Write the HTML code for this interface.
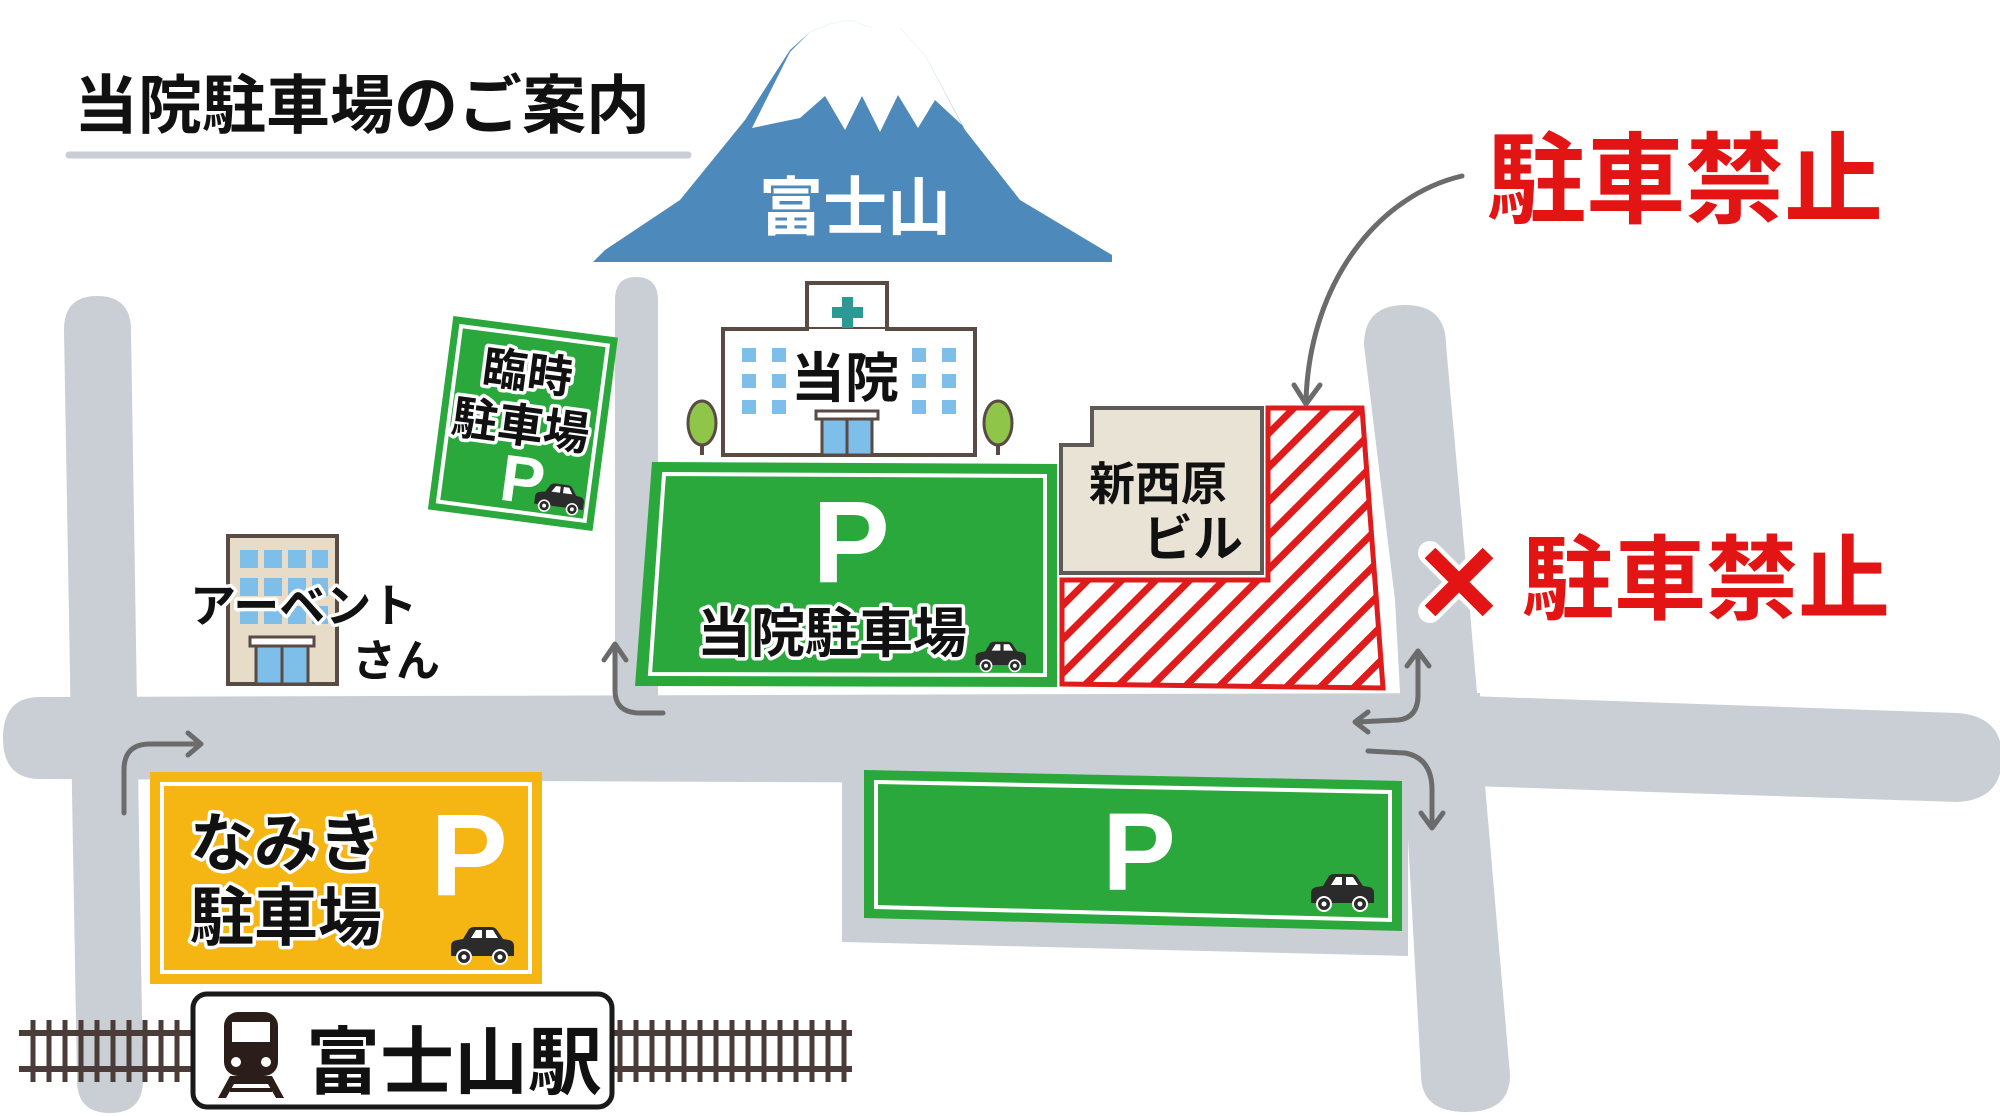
<!DOCTYPE html>
<html><head><meta charset="utf-8"><style>
html,body{margin:0;padding:0;background:#fff;}
svg{display:block;}
text{font-family:"Liberation Sans","Noto Sans CJK JP",sans-serif;font-weight:bold;}
.ol{stroke:#fff;stroke-width:7;paint-order:stroke;stroke-linejoin:round;}
</style></head><body>
<svg width="2000" height="1116" viewBox="0 0 2000 1116" xmlns="http://www.w3.org/2000/svg">
<defs>
<pattern id="hatch" width="24" height="24" patternUnits="userSpaceOnUse" patternTransform="rotate(45)">
<rect width="24" height="24" fill="#fff"/><rect x="0" y="0" width="7" height="24" fill="#e01b1b"/>
</pattern>
<g id="car">
<path d="M2,30 L2,20 Q2,15 8,14 L14,13 L20,3 Q22,1 26,1 L42,1 Q46,1 48,4 L54,13 L60,14 Q65,15 65,20 L65,30 Z" fill="#2b2b2b"/>
<path d="M22,12 L27,4 L33,4 L33,12 Z M37,12 L37,4 L44,4 L49,12 Z" fill="#fff"/>
<circle cx="15" cy="31" r="7" fill="#2b2b2b" stroke="#fff" stroke-width="2"/><circle cx="15" cy="31" r="2.5" fill="#fff"/>
<circle cx="51" cy="31" r="7" fill="#2b2b2b" stroke="#fff" stroke-width="2"/><circle cx="51" cy="31" r="2.5" fill="#fff"/>
</g>
</defs>

<text x="74" y="128" font-size="64" fill="#111">当院駐車場のご案内</text>
<line x1="69" y1="155" x2="688" y2="155" stroke="#c7ced5" stroke-width="7" stroke-linecap="round"/>

<path d="M593,262 L605,250 L680,200 L745,120 L790,50 L810,32 L830,24 L850,20 L872,28 L900,28 L925,55 L965,130 L1020,200 L1112,255 L1112,262 Z" fill="#4d89bb"/>
<path d="M790,52 L810,32 L830,24 L850,20 L872,28 L900,28 L925,55 L962,125 L935,100 L918,128 L898,95 L880,132 L862,96 L845,130 L825,96 L800,118 L752,128 Z" fill="#fff"/>
<text x="855" y="230" font-size="64" fill="#fff" text-anchor="middle">富士山</text>

<g fill="#c9cfd5">
<path d="M64,330 Q64,296 97,296 Q131,296 131,330 L143,1080 Q143,1113 110,1113 Q77,1113 77,1080 Z"/>
<path d="M40,697 L1480,693 L1480,785 L40,779 Q3,779 3,738 Q3,697 40,697 Z"/>
<path d="M615,300 Q615,277 636,277 Q658,277 658,300 L658,700 L615,700 Z"/>
<path d="M842,768 L1408,770 L1408,956 L842,942 Z"/>
<path d="M1364,345 Q1364,305 1405,305 Q1446,305 1446,345 L1469,600 L1510,1075 Q1510,1112 1466,1112 Q1421,1112 1421,1075 L1395,600 Z"/>
<path d="M1440,695 L1957,713 Q2002,716 2002,757 Q2002,800 1957,802 L1440,785 Z"/>
</g>

<g transform="rotate(7.5 523 423)">
<rect x="440" y="326" width="166" height="195" fill="#2aa83c"/>
<rect x="449" y="335" width="148" height="177" fill="none" stroke="#fff" stroke-width="4"/>
<text x="521" y="388" font-size="45" fill="#111" text-anchor="middle" class="ol">臨時</text>
<text x="521" y="442" font-size="46" fill="#111" text-anchor="middle" class="ol">駐車場</text>
<text x="508" y="502" font-size="66" fill="#fff">P</text>
<use href="#car" transform="translate(543,478) scale(0.78)"/>
</g>

<rect x="807" y="283" width="80" height="60" fill="#fff" stroke="#5a4a44" stroke-width="4"/>
<rect x="723" y="329" width="252" height="126" fill="#fff" stroke="#5a4a44" stroke-width="4"/>
<rect x="809" y="329" width="76" height="8" fill="#fff"/>
<path d="M842,297 h11 v10 h10 v11 h-10 v10 h-11 v-10 h-10 v-11 h10 Z" fill="#2a9a94"/>
<g fill="#7dbfe8">
<rect x="742" y="348" width="14" height="14"/><rect x="742" y="374" width="14" height="14"/><rect x="742" y="400" width="14" height="14"/>
<rect x="772" y="348" width="14" height="14"/><rect x="772" y="374" width="14" height="14"/><rect x="772" y="400" width="14" height="14"/>
<rect x="912" y="348" width="14" height="14"/><rect x="912" y="374" width="14" height="14"/><rect x="912" y="400" width="14" height="14"/>
<rect x="942" y="348" width="14" height="14"/><rect x="942" y="374" width="14" height="14"/><rect x="942" y="400" width="14" height="14"/>
</g>
<rect x="816" y="411" width="62" height="8" fill="#fff" stroke="#5a4a44" stroke-width="3"/>
<rect x="822" y="419" width="50" height="36" fill="#7dbfe8" stroke="#5a4a44" stroke-width="3"/>
<line x1="847" y1="419" x2="847" y2="455" stroke="#5a4a44" stroke-width="3"/>
<text x="845" y="397" font-size="54" fill="#111" text-anchor="middle" class="ol">当院</text>
<g>
<line x1="702" y1="430" x2="702" y2="455" stroke="#5a4a44" stroke-width="4"/>
<ellipse cx="702" cy="423" rx="14" ry="22" fill="#8fc64a" stroke="#5a4a44" stroke-width="3"/>
<line x1="998" y1="430" x2="998" y2="455" stroke="#5a4a44" stroke-width="4"/>
<ellipse cx="998" cy="423" rx="14" ry="22" fill="#8fc64a" stroke="#5a4a44" stroke-width="3"/>
</g>

<path d="M652,462 L1057,464 L1057,687 L635,686 Z" fill="#2aa83c"/>
<path d="M664,474 L1045,476 L1045,675 L650,674 Z" fill="none" stroke="#fff" stroke-width="4"/>
<text x="851" y="582" font-size="116" fill="#fff" text-anchor="middle">P</text>
<text x="832" y="652" font-size="54" fill="#111" text-anchor="middle" class="ol">当院駐車場</text>
<use href="#car" transform="translate(974,641) scale(0.8)"/>

<path d="M1092,408 L1262,408 L1262,573 L1061,573 L1061,445 L1092,445 Z" fill="#e9e3d6" stroke="#5e5a55" stroke-width="4"/>
<text x="1158" y="500" font-size="46" fill="#111" text-anchor="middle">新西原</text>
<text x="1193" y="556" font-size="50" fill="#111" text-anchor="middle">ビル</text>

<path d="M1268,408 L1362,408 L1383,688 L1062,684 L1062,580 L1268,580 Z" fill="url(#hatch)" stroke="#e01b1b" stroke-width="5"/>

<text x="1487" y="215" font-size="99" fill="#e31414">駐車禁止</text>
<path d="M1430,553 L1488,611 M1488,553 L1430,611" stroke="#fff" stroke-width="24" stroke-linecap="round"/>
<path d="M1430,553 L1488,611 M1488,553 L1430,611" stroke="#e31414" stroke-width="15"/>
<text x="1522" y="612" font-size="92" fill="#e31414">駐車禁止</text>

<g fill="none" stroke="#6b6b6b" stroke-width="5" stroke-linecap="round" stroke-linejoin="round">
<path d="M1462,176 C1380,195 1310,280 1306,400"/>
<path d="M1294,385 L1306,404 L1320,385"/>
<path d="M124,813 L124,770 Q124,744 150,744 L198,744"/>
<path d="M188,733 L201,744 L188,755"/>
<path d="M663,713 L640,713 Q615,713 615,690 L615,648"/>
<path d="M604,660 L615,644 L626,660"/>
<path d="M1357,722 L1398,720 Q1418,718 1418,695 L1418,655"/>
<path d="M1368,712 L1355,722 L1368,732"/>
<path d="M1407,666 L1418,651 L1429,666"/>
<path d="M1368,751 L1405,753 Q1432,758 1432,790 L1432,825"/>
<path d="M1421,813 L1432,828 L1443,813"/>
</g>

<rect x="228" y="536" width="109" height="148" fill="#e6dcc8" stroke="#5a4a44" stroke-width="4"/>
<g fill="#7dbfe8">
<rect x="240" y="550" width="18" height="18"/><rect x="264" y="550" width="18" height="18"/><rect x="288" y="550" width="18" height="18"/><rect x="312" y="550" width="16" height="18"/>
<rect x="240" y="578" width="18" height="18"/><rect x="264" y="578" width="18" height="18"/><rect x="288" y="578" width="18" height="18"/><rect x="312" y="578" width="16" height="18"/>
<rect x="240" y="606" width="18" height="18"/><rect x="264" y="606" width="18" height="18"/><rect x="288" y="606" width="18" height="18"/><rect x="312" y="606" width="16" height="18"/>
</g>
<rect x="250" y="637" width="64" height="9" fill="#fff" stroke="#5a4a44" stroke-width="3"/>
<rect x="256" y="646" width="52" height="38" fill="#7dbfe8" stroke="#5a4a44" stroke-width="3"/>
<line x1="282" y1="646" x2="282" y2="684" stroke="#5a4a44" stroke-width="3"/>
<text x="190" y="622" font-size="46" fill="#111" class="ol">アーベント</text>
<text x="352" y="676" font-size="44" fill="#111" class="ol">さん</text>

<rect x="150" y="772" width="392" height="212" fill="#f5b512"/>
<rect x="162" y="784" width="368" height="188" fill="none" stroke="#fff" stroke-width="4"/>
<text x="190" y="866" font-size="64" fill="#111" class="ol">なみき</text>
<text x="190" y="940" font-size="64" fill="#111" class="ol">駐車場</text>
<text x="469" y="895" font-size="116" fill="#fff" text-anchor="middle">P</text>
<use href="#car" transform="translate(449,926)"/>

<path d="M864,770 L1402,781 L1402,931 L864,918 Z" fill="#2aa83c"/>
<path d="M876,782 L1390,792 L1390,920 L876,907 Z" fill="none" stroke="#fff" stroke-width="4"/>
<text x="1139" y="890" font-size="110" fill="#fff" text-anchor="middle">P</text>
<use href="#car" transform="translate(1309,873)"/>

<g stroke="#4a3c38">
<line x1="19" y1="1033" x2="852" y2="1033" stroke-width="6"/>
<line x1="19" y1="1069" x2="852" y2="1069" stroke-width="6"/>
<path d="M33,1020V1082M49,1020V1082M65,1020V1082M81,1020V1082M97,1020V1082M113,1020V1082M129,1020V1082M145,1020V1082M161,1020V1082M177,1020V1082M620,1020V1082M636,1020V1082M652,1020V1082M668,1020V1082M684,1020V1082M700,1020V1082M716,1020V1082M732,1020V1082M748,1020V1082M764,1020V1082M780,1020V1082M796,1020V1082M812,1020V1082M828,1020V1082M844,1020V1082" stroke-width="5"/>
</g>
<rect x="193" y="994" width="419" height="113" rx="14" fill="#fff" stroke="#1a1a1a" stroke-width="5"/>
<g fill="#2b1e1a">
<rect x="224" y="1012" width="54" height="64" rx="14"/>
<rect x="232" y="1022" width="38" height="20" fill="#fff"/>
<circle cx="236" cy="1062" r="5" fill="#fff"/><circle cx="266" cy="1062" r="5" fill="#fff"/>
<path d="M230,1076 L218,1098 L226,1098 L234,1084 L268,1084 L276,1098 L284,1098 L272,1076 Z"/>
<rect x="230" y="1088" width="42" height="4"/>
</g>
<text x="306" y="1088" font-size="74" fill="#111">富士山駅</text>
</svg>
</body></html>
